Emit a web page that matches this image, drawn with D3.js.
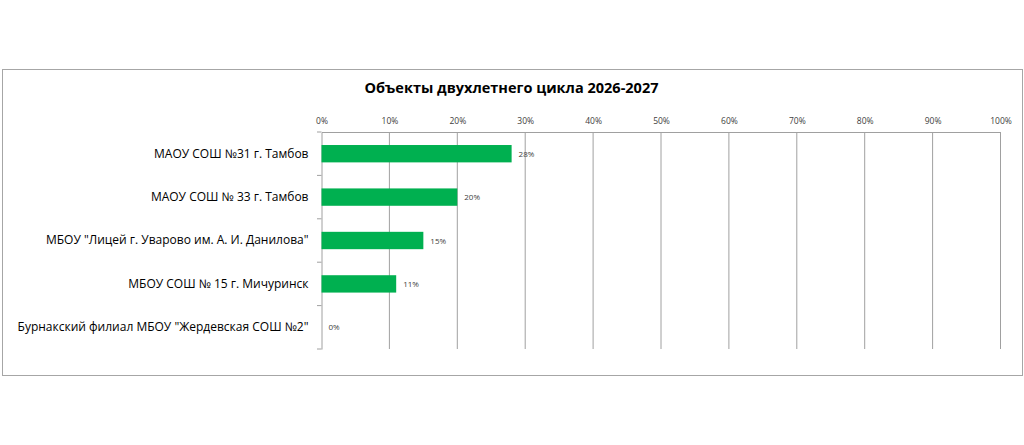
<!DOCTYPE html>
<html>
<head>
<meta charset="utf-8">
<script src="https://cdn.jsdelivr.net/npm/d3@7"></script>
<style>
  html, body { margin: 0; padding: 0; background: #fff; }
  svg text { font-family: "Open Sans", "DejaVu Sans", sans-serif; }
</style>
</head>
<body>
<svg id="chart" width="1024" height="445"></svg>
<script>
const categories = [
    "МАОУ СОШ №31 г. Тамбов",
    "МАОУ СОШ № 33 г. Тамбов",
    "МБОУ \"Лицей г. Уварово им. А. И. Данилова\"",
    "МБОУ СОШ № 15 г. Мичуринск",
    "Бурнакский филиал МБОУ \"Жердевская СОШ №2\""
];
const values = [0.28, 0.20, 0.15, 0.11, 0];
const xTicks = [0, 0.1, 0.2, 0.3, 0.4, 0.5, 0.6, 0.7, 0.8, 0.9, 1];
const title = "Объекты двухлетнего цикла 2026-2027";

const svg = d3.select("#chart");

// outer frame of the chart area
svg.append("rect")
    .attr("x", 2.5).attr("y", 69.5)
    .attr("width", 1020).attr("height", 306)
    .attr("fill", "#fff").attr("stroke", "#a6a6a6").attr("stroke-width", 1);

svg.append("text")
    .attr("x", 511.5).attr("y", 93)
    .attr("text-anchor", "middle")
    .attr("font-size", 14.5).attr("font-weight", "bold").attr("fill", "#000")
    .text(title);

const x = d3.scaleLinear().domain([0, 1]).range([321.5, 1000.5]);
const y = d3.scaleBand().domain(categories).range([132, 349]).paddingInner(0.6).paddingOuter(0.3);

// vertical gridlines
svg.append("g").selectAll("line")
    .data(xTicks.slice(1))
    .join("line")
    .attr("x1", d => x(d)).attr("x2", d => x(d))
    .attr("y1", 132).attr("y2", 349)
    .attr("stroke", "#a0a0a0").attr("stroke-width", 1);

// top axis
const xAxis = svg.append("g")
    .attr("transform", "translate(0,132)")
    .call(d3.axisTop(x).tickValues(xTicks).tickFormat(d3.format(".0%")).tickSize(0).tickPadding(8));
xAxis.select(".domain").attr("stroke", "#a0a0a0");
xAxis.selectAll("text").attr("font-size", 8.5).attr("fill", "#404040");

// left axis with ticks between the categories
const yAxis = svg.append("g")
    .attr("transform", "translate(321.5,0)")
    .call(d3.axisLeft(y).tickSize(0).tickPadding(13));
yAxis.select(".domain").attr("stroke", "#a0a0a0");
yAxis.selectAll("text").attr("font-size", 12).attr("fill", "#000");

const bounds = d3.range(categories.length + 1).map(i => 132 + i * (217 / categories.length));
svg.append("g").selectAll("line")
    .data(bounds)
    .join("line")
    .attr("x1", 317).attr("x2", 321.5)
    .attr("y1", d => d).attr("y2", d => d)
    .attr("stroke", "#a0a0a0");

// bars
svg.append("g").selectAll("rect")
    .data(values)
    .join("rect")
    .attr("x", x(0))
    .attr("y", (d, i) => y(categories[i]))
    .attr("width", d => x(d) - x(0))
    .attr("height", y.bandwidth())
    .attr("fill", "#00b050");

// data labels
svg.append("g").selectAll("text")
    .data(values)
    .join("text")
    .attr("x", d => x(d) + 7)
    .attr("y", (d, i) => y(categories[i]) + y.bandwidth() / 2 + 3)
    .attr("font-size", 8).attr("fill", "#404040")
    .text(d => d3.format(".0%")(d));
</script>
</body>
</html>
